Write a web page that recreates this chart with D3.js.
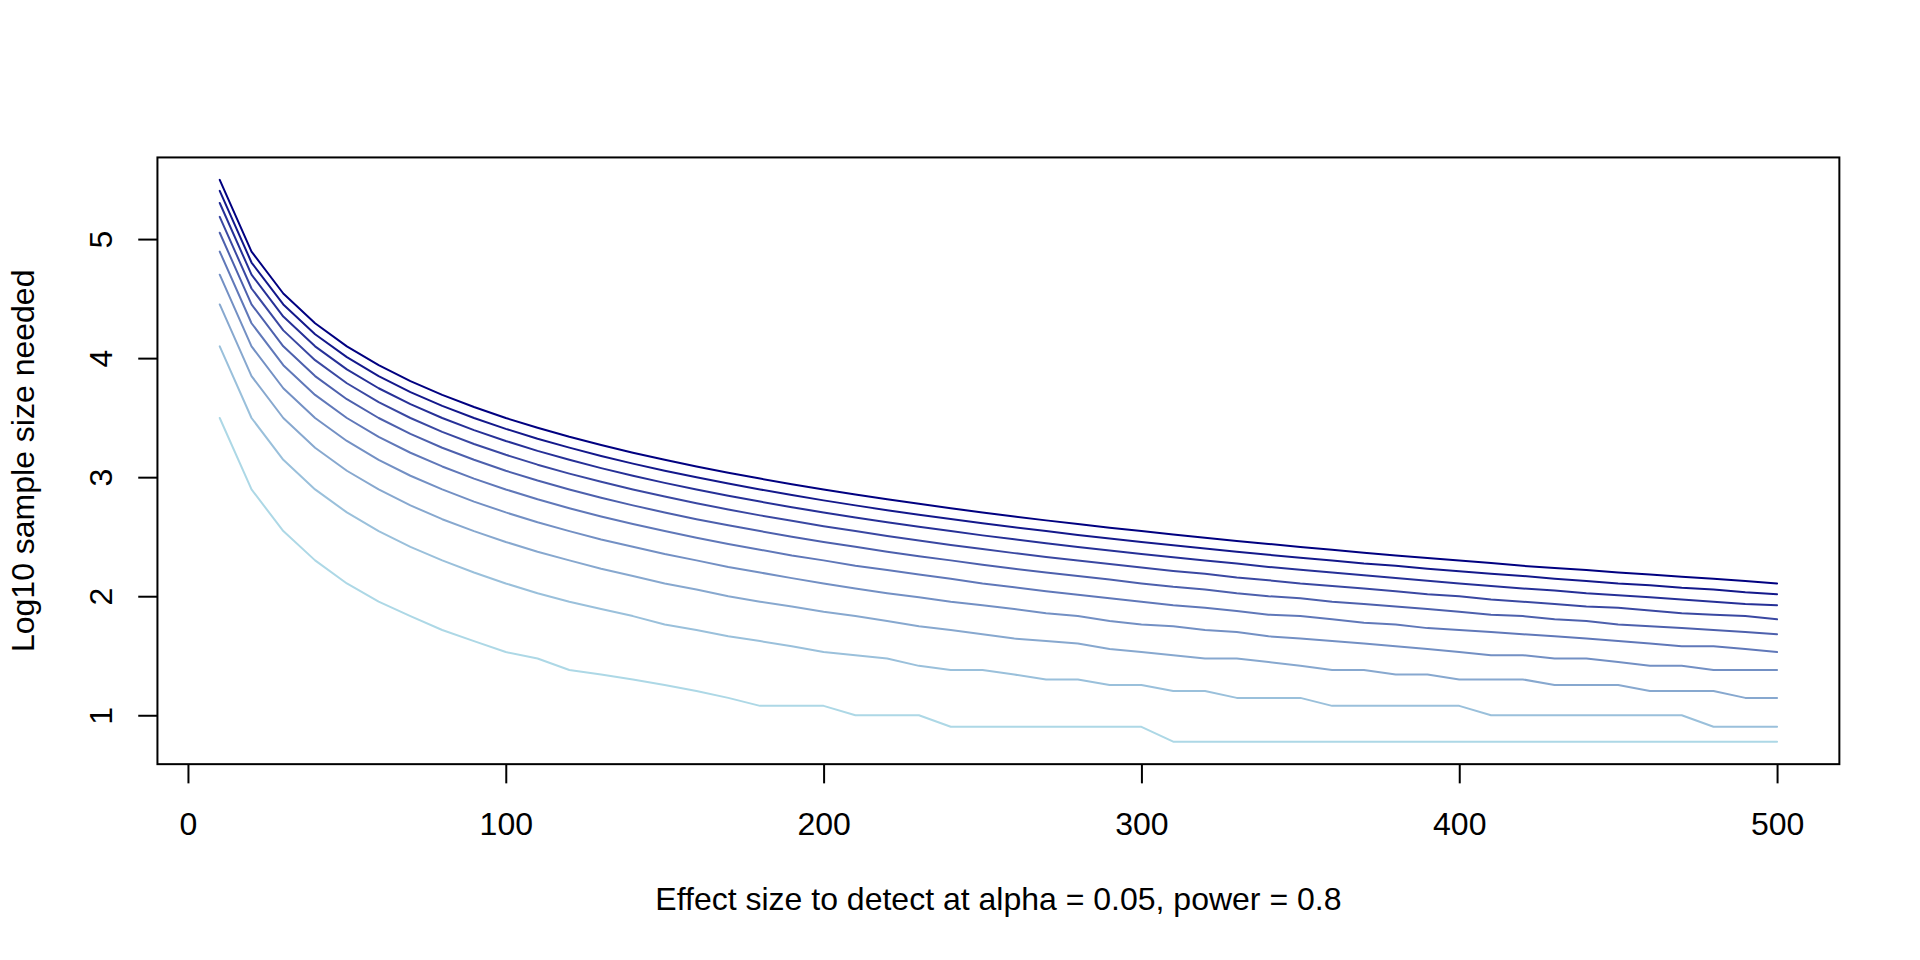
<!DOCTYPE html>
<html>
<head>
<meta charset="utf-8">
<script src="https://cdn.jsdelivr.net/npm/d3@7"></script>
<style>
  body { margin: 0; background: #ffffff; }
  svg { display: block; }
  text { font-family: "Liberation Sans", Arial, Helvetica, sans-serif; font-size: 32px; fill: #000; }
</style>
</head>
<body>
<svg id="chart" width="1920" height="960"></svg>
<script>
// ---------------- DATA ----------------
const effectSizes = [10,20,30,40,50,60,70,80,90,100,110,120,130,140,150,160,170,180,190,200,
  210,220,230,240,250,260,270,280,290,300,310,320,330,340,350,360,370,380,390,400,
  410,420,430,440,450,460,470,480,490,500];

const sd100 = [3.497,2.897,2.547,2.301,2.107,1.954,1.833,1.716,1.623,1.531,
  1.477,1.380,1.342,1.301,1.255,1.204,1.146,1.079,1.079,1.079,
  1.000,1.000,1.000,0.903,0.903,0.903,0.903,0.903,0.903,0.903,
  0.778,0.778,0.778,0.778,0.778,0.778,0.778,0.778,0.778,0.778,
  0.778,0.778,0.778,0.778,0.778,0.778,0.778,0.778,0.778,0.778];

const sd200 = [4.099,3.497,3.146,2.897,2.704,2.547,2.415,2.301,2.199,2.107,
  2.025,1.954,1.892,1.833,1.763,1.716,1.663,1.623,1.580,1.531,
  1.505,1.477,1.415,1.380,1.380,1.342,1.301,1.301,1.255,1.255,
  1.204,1.204,1.146,1.146,1.146,1.079,1.079,1.079,1.079,1.079,
  1.000,1.000,1.000,1.000,1.000,1.000,1.000,0.903,0.903,0.903];

const sd300 = [4.451,3.849,3.497,3.247,3.054,2.897,2.763,2.647,2.547,2.456,
  2.373,2.301,2.230,2.170,2.107,2.057,2.000,1.954,1.914,1.869,
  1.833,1.792,1.748,1.716,1.681,1.644,1.623,1.602,1.556,1.531,
  1.505,1.477,1.477,1.447,1.415,1.380,1.380,1.342,1.342,1.301,
  1.301,1.301,1.255,1.255,1.255,1.204,1.204,1.204,1.146,1.146];

const sd400 = [4.701,4.099,3.747,3.497,3.304,3.146,3.012,2.897,2.795,2.704,
  2.621,2.547,2.477,2.415,2.354,2.301,2.246,2.199,2.152,2.107,
  2.065,2.025,1.991,1.954,1.924,1.892,1.857,1.833,1.792,1.763,
  1.748,1.716,1.699,1.663,1.644,1.623,1.602,1.580,1.556,1.531,
  1.505,1.505,1.477,1.477,1.447,1.415,1.415,1.380,1.380,1.380];

const sd500 = [4.895,4.293,3.941,3.691,3.497,3.339,3.205,3.090,2.988,2.897,
  2.814,2.739,2.670,2.606,2.547,2.491,2.438,2.391,2.342,2.301,
  2.255,2.220,2.182,2.146,2.107,2.075,2.041,2.012,1.982,1.954,
  1.924,1.903,1.875,1.845,1.833,1.806,1.778,1.763,1.732,1.716,
  1.699,1.681,1.663,1.644,1.623,1.602,1.580,1.580,1.556,1.531];

const sd600 = [5.053,4.451,4.099,3.849,3.655,3.497,3.363,3.247,3.146,3.054,
  2.972,2.897,2.827,2.763,2.704,2.647,2.596,2.547,2.500,2.456,
  2.415,2.373,2.335,2.301,2.265,2.230,2.199,2.170,2.140,2.107,
  2.079,2.057,2.025,2.000,1.982,1.954,1.935,1.914,1.892,1.869,
  1.845,1.833,1.806,1.792,1.763,1.748,1.732,1.716,1.699,1.681];

const sd700 = [5.187,4.585,4.233,3.983,3.789,3.631,3.497,3.381,3.279,3.188,
  3.105,3.030,2.961,2.897,2.837,2.781,2.729,2.679,2.633,2.588,
  2.547,2.505,2.468,2.431,2.396,2.362,2.330,2.301,2.270,2.241,
  2.212,2.188,2.158,2.134,2.107,2.086,2.065,2.041,2.017,2.000,
  1.973,1.954,1.935,1.914,1.903,1.881,1.857,1.845,1.833,1.806];

const sd800 = [5.303,4.701,4.349,4.099,3.905,3.747,3.613,3.497,3.395,3.304,
  3.221,3.146,3.076,3.012,2.952,2.897,2.844,2.795,2.748,2.704,
  2.662,2.621,2.583,2.547,2.511,2.478,2.445,2.414,2.384,2.355,
  2.327,2.301,2.274,2.246,2.223,2.199,2.176,2.152,2.130,2.107,
  2.086,2.065,2.049,2.025,2.009,1.991,1.973,1.954,1.935,1.924];

const sd900 = [5.405,4.803,4.451,4.201,4.008,3.849,3.715,3.599,3.497,3.406,
  3.323,3.248,3.178,3.114,3.054,2.999,2.946,2.897,2.850,2.805,
  2.763,2.723,2.685,2.648,2.613,2.579,2.547,2.515,2.485,2.456,
  2.428,2.400,2.374,2.348,2.324,2.301,2.274,2.255,2.230,2.210,
  2.188,2.170,2.146,2.127,2.107,2.093,2.072,2.057,2.033,2.017];

const sd1000 = [5.497,4.895,4.543,4.293,4.099,3.941,3.807,3.691,3.589,3.497,
  3.415,3.339,3.270,3.205,3.146,3.090,3.037,2.988,2.941,2.897,
  2.854,2.814,2.776,2.739,2.704,2.670,2.637,2.606,2.576,2.547,
  2.518,2.491,2.464,2.439,2.414,2.391,2.366,2.342,2.322,2.301,
  2.279,2.255,2.236,2.220,2.199,2.182,2.164,2.146,2.127,2.107];

const seriesList = [sd100, sd200, sd300, sd400, sd500, sd600, sd700, sd800, sd900, sd1000];
const seriesColors = ["#ADD8E6","#9AC0DB","#87A8CF","#7390C4","#6078B9",
                      "#4D60AD","#3A48A2","#263097","#13188B","#000080"];

const xTicks = [0, 100, 200, 300, 400, 500];
const yTicks = [1, 2, 3, 4, 5];
const xTitle = "Effect size to detect at alpha = 0.05, power = 0.8";
const yTitle = "Log10 sample size needed";

// ---------------- LAYOUT ----------------
const W = 1920, H = 960;
const lineH = 38.4;                       // one margin line
const margin = { top: 4.1 * lineH, right: 2.1 * lineH, bottom: 5.1 * lineH, left: 4.1 * lineH };
const plotL = margin.left, plotR = W - margin.right;
const plotT = margin.top, plotB = H - margin.bottom;

const svg = d3.select("#chart");

// R-style 4% padded domains
const xExt = d3.extent(effectSizes);
const allY = seriesList.flat();
const yExt = d3.extent(allY);
const xPad = (xExt[1] - xExt[0]) * 0.04;
const yPad = (yExt[1] - yExt[0]) * 0.04;

const x = d3.scaleLinear().domain([xExt[0] - xPad, xExt[1] + xPad]).range([plotL, plotR]);
const y = d3.scaleLinear().domain([yExt[0] - yPad, yExt[1] + yPad]).range([plotB, plotT]);

// ---------------- LINES ----------------
const line = d3.line()
  .x((d, i) => x(effectSizes[i]))
  .y(d => y(d));

svg.append("g").selectAll("path")
  .data(seriesList)
  .join("path")
  .attr("d", d => line(d))
  .attr("fill", "none")
  .attr("stroke", (d, i) => seriesColors[i])
  .attr("stroke-width", 2)
  .attr("stroke-linejoin", "round")
  .attr("stroke-linecap", "round");

// ---------------- AXES ----------------
const tickLen = 0.5 * lineH;

const gx = svg.append("g")
  .attr("transform", `translate(0,${plotB})`)
  .call(d3.axisBottom(x).tickValues(xTicks).tickSize(tickLen).tickFormat(d3.format("d")));
gx.select(".domain").remove();
gx.selectAll(".tick line").attr("stroke", "#000").attr("stroke-width", 2);
gx.selectAll(".tick text")
  .attr("y", 71).attr("dy", null)
  .attr("font-size", 32)
  .attr("font-family", "Liberation Sans, Arial, sans-serif")
  .attr("fill", "#000");

const gy = svg.append("g")
  .attr("transform", `translate(${plotL},0)`)
  .call(d3.axisLeft(y).tickValues(yTicks).tickSize(tickLen).tickFormat(d3.format("d")));
gy.select(".domain").remove();
gy.selectAll(".tick line").attr("stroke", "#000").attr("stroke-width", 2);
gy.selectAll(".tick text")
  .attr("x", null).attr("y", null).attr("dy", null)
  .attr("text-anchor", "middle")
  .attr("transform", `translate(${112 - plotL},0) rotate(-90)`)
  .attr("font-size", 32)
  .attr("font-family", "Liberation Sans, Arial, sans-serif")
  .attr("fill", "#000");

// ---------------- BOX ----------------
svg.append("rect")
  .attr("x", plotL).attr("y", plotT)
  .attr("width", plotR - plotL).attr("height", plotB - plotT)
  .attr("fill", "none").attr("stroke", "#000").attr("stroke-width", 2);

// ---------------- TITLES ----------------
svg.append("text")
  .attr("x", (plotL + plotR) / 2)
  .attr("y", 910)
  .attr("text-anchor", "middle")
  .text(xTitle);

svg.append("text")
  .attr("transform", `translate(34,${(plotT + plotB) / 2}) rotate(-90)`)
  .attr("text-anchor", "middle")
  .text(yTitle);
</script>
</body>
</html>
